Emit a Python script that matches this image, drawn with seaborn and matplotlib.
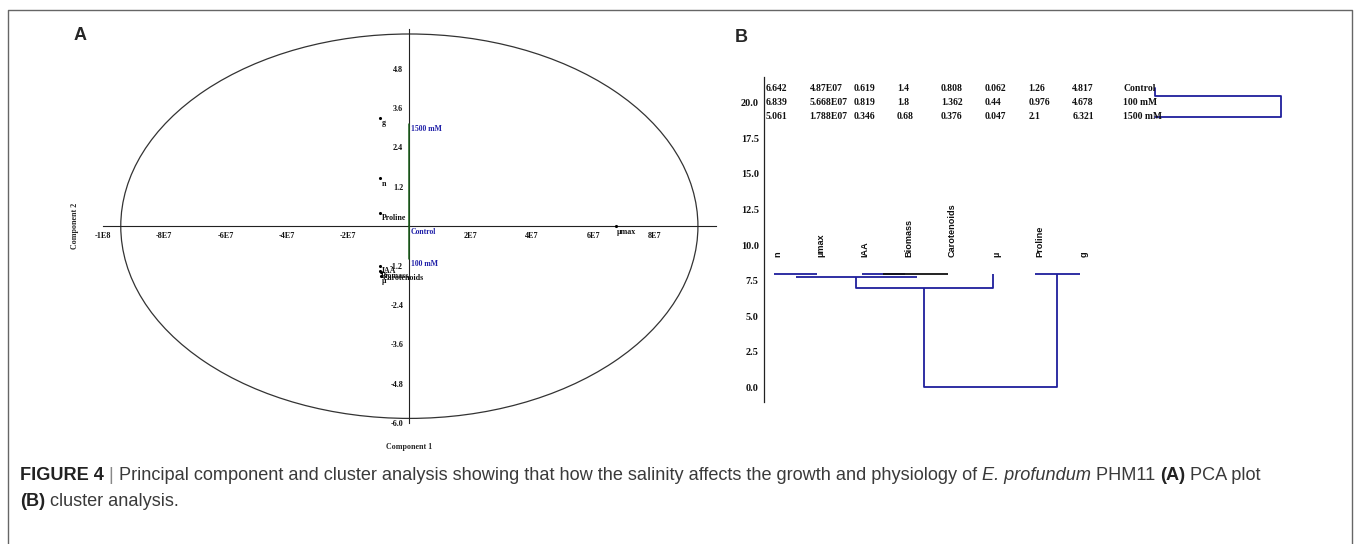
import matplotlib
matplotlib.use("Agg")
import matplotlib.pyplot as plt
from matplotlib import font_manager
from matplotlib.patches import Ellipse
import pandas as pd
import seaborn as sns

# PCA (panel A)
variables = ['g', 'n', 'Proline', 'µmax', 'IAA', 'Biomass', 'Carotenoids', 'µ']
comp1 = [-9.5e6, -9.5e6, -9.5e6, 6.74e7, -9.6e6, -9.6e6, -9.3e6, -9.3e6]
comp2 = [3.31, 1.46, 0.41, 0.0, -1.20, -1.36, -1.40, -1.52]
treatments = ['1500 mM', 'Control', '100 mM']
treat_c1 = [0.0, 0.0, 0.0]
treat_c2 = [3.12, 0.0, -0.99]
ellipse_c1 = 9.42e7
ellipse_c2 = 5.86
xticks_a = [-1e8, -8e7, -6e7, -4e7, -2e7, 2e7, 4e7, 6e7, 8e7]
xtick_labels_a = ['-1E8', '-8E7', '-6E7', '-4E7', '-2E7', '2E7', '4E7', '6E7', '8E7']
yticks_a = [-6.0, -4.8, -3.6, -2.4, -1.2, 1.2, 2.4, 3.6, 4.8]

# cluster analysis (panel B)
leaves = ['n', 'µmax', 'IAA', 'Biomass', 'Carotenoids', 'µ', 'Proline', 'g']
table_rows = ['Control', '100 mM', '1500 mM']
table_vals = [
    ['6.642', '4.87E07', '0.619', '1.4', '0.808', '0.062', '1.26', '4.817'],
    ['6.839', '5.668E07', '0.819', '1.8', '1.362', '0.44', '0.976', '4.678'],
    ['5.061', '1.788E07', '0.346', '0.68', '0.376', '0.047', '2.1', '6.321'],
]
table_y = [21, 20, 19]
# links: left x, right x, left child height, right child height, link height
link_xl = [-0.07, 1.93, 2.42, 0.43, 1.79, 5.88, 3.35]
link_xr = [0.90, 2.92, 3.90, 3.18, 4.92, 6.90, 6.39]
link_hl = [7.96, 7.96, 7.96, 7.77, 7.77, 7.96, 7.00]
link_hr = [7.96, 7.96, 7.96, 7.77, 7.96, 7.96, 7.96]
link_h = [7.96, 7.96, 7.96, 7.77, 7.00, 7.96, 0.00]
link_col = ['#1f1f9c', '#1f1f9c', '#111111', '#1f1f9c', '#1f1f9c', '#1f1f9c', '#1f1f9c']
# row clustering (horizontal): Control/100 mM join, then 1500 mM
row_link_x = [8.62, 11.5]
row_link_y = [21, 20.5, 19]

sns.set_style("white")
serif = 'Liberation Serif'
sans = 'Liberation Sans'
names = {f.name for f in font_manager.fontManager.ttflist}
cap_font = 'Liberation Sans Narrow' if 'Liberation Sans Narrow' in names else sans

W, H = 1357, 544
fig = plt.figure(figsize=(W / 100, H / 100), dpi=100)
navy = '#1f1f9c'


def fx(px):
    return px / W


def fy(py):
    return 1 - py / H


# ---------- panel A ----------
ax = fig.add_axes([fx(103), fy(423), fx(715.7) - fx(103), fy(29.4) - fy(423)])
ax.set_xlim(-1e8, 1e8)
ax.set_ylim(-6, 6)
for s in ['top', 'right']:
    ax.spines[s].set_visible(False)
ax.spines['left'].set_position('zero')
ax.spines['bottom'].set_position('zero')
for s in ['left', 'bottom']:
    ax.spines[s].set_color('#222222')
    ax.spines[s].set_linewidth(0.8)
ax.set_xticks(xticks_a)
ax.set_xticklabels(xtick_labels_a)
ax.set_yticks(yticks_a)
ax.set_yticklabels([f'{v:.1f}' for v in yticks_a])
ax.tick_params(direction='out', length=2.5, width=0.7, labelsize=5.9, pad=2,
               colors='#111111')
for lab in ax.get_xticklabels() + ax.get_yticklabels():
    lab.set_fontfamily(serif)
    lab.set_fontweight('bold')

ax.add_patch(Ellipse((0, 0), 2 * ellipse_c1, 2 * ellipse_c2, fill=False,
                     ec='#333333', lw=0.9))
for c1, c2 in zip(treat_c1, treat_c2):
    ax.plot([0, c1], [0, c2], color='#1a5e1a', lw=1.1, zorder=3)

df_a = pd.DataFrame({'c1': comp1, 'c2': comp2, 'var': variables})
sns.scatterplot(data=df_a, x='c1', y='c2', ax=ax, color='black', s=5,
                linewidth=0, zorder=4, legend=False)
for name, c1, c2 in zip(variables, comp1, comp2):
    ax.annotate(name, (c1, c2), xytext=(1, -1), textcoords='offset points',
                ha='left', va='top', fontsize=5.7, fontfamily=serif,
                fontweight='bold', color='#111111')
for name, c1, c2 in zip(treatments, treat_c1, treat_c2):
    ax.annotate(name, (c1, c2), xytext=(1, -1), textcoords='offset points',
                ha='left', va='top', fontsize=5.6, fontfamily=serif,
                fontweight='bold', color='#2020a8')
ax.set_xlabel('')
ax.set_ylabel('')
fig.text(fx(75), fy(226), 'Component 2', rotation=90, ha='center', va='center',
         fontsize=5.8, fontfamily=serif, fontweight='bold')
fig.text(fx(409), fy(447), 'Component 1', ha='center', va='center',
         fontsize=5.8, fontfamily=serif, fontweight='bold')

# ---------- panel B ----------
bx = fig.add_axes([fx(764.3), fy(401.7), fx(1289.8) - fx(764.3), fy(77) - fy(401.7)])
bx.set_xlim(-0.3, 11.7)
bx.set_ylim(-1.0, 21.8)
for s in ['top', 'right', 'bottom']:
    bx.spines[s].set_visible(False)
bx.spines['left'].set_color('#222222')
bx.spines['left'].set_linewidth(0.9)
bx.set_xticks([])
yt = [0, 2.5, 5, 7.5, 10, 12.5, 15, 17.5, 20]
bx.set_yticks(yt)
bx.set_yticklabels([f'{v:.1f}' for v in yt])
bx.tick_params(axis='y', direction='out', length=2.5, width=0.7, labelsize=7.4,
               pad=1.5, colors='#111111')
for lab in bx.get_yticklabels():
    lab.set_fontfamily(serif)
    lab.set_fontweight('bold')

for xl, xr, hl, hr, h, c in zip(link_xl, link_xr, link_hl, link_hr, link_h, link_col):
    bx.plot([xl, xl, xr, xr], [hl, h, h, hr], color=c, lw=1.3,
            solid_capstyle='butt')
bx.plot([row_link_x[0], row_link_x[0], row_link_x[1], row_link_x[1], row_link_x[0]],
        [row_link_y[0], row_link_y[1], row_link_y[1], row_link_y[2], row_link_y[2]],
        color=navy, lw=1.3)

for i, name in enumerate(leaves):
    bx.text(i, 9.14, name, rotation=90, ha='center', va='bottom', fontsize=6.6,
            fontfamily=sans, fontweight='bold', color='#111111')
for r, (row, yv) in enumerate(zip(table_vals, table_y)):
    for i, v in enumerate(row):
        bx.text(i - 0.27, yv, v, ha='left', va='center', fontsize=6.9,
                fontfamily=serif, fontweight='bold', color='#111111')
    bx.text(7.9, yv, table_rows[r], ha='left', va='center', fontsize=6.9,
            fontfamily=serif, fontweight='bold', color='#111111')

# panel letters
fig.text(fx(74), fy(36), 'A', ha='left', va='center', fontsize=13,
         fontfamily=sans, fontweight='bold')
fig.text(fx(735), fy(37), 'B', ha='left', va='center', fontsize=13,
         fontfamily=sans, fontweight='bold')

# frame
fig.add_artist(plt.Line2D([fx(8), fx(8), fx(1351.5), fx(1351.5)],
                          [fy(544), fy(10), fy(10), fy(544)],
                          color='#666666', lw=1.0))

# caption
renderer = fig.canvas.get_renderer()
cap_size = 13.1
lines = [
    [('FIGURE 4 ', 'bold', 'normal', '#222222'),
     ('| ', 'normal', 'normal', '#888888'),
     ('Principal component and cluster analysis showing that how the salinity '
      'affects the growth and physiology of ', 'normal', 'normal', '#3a3a3a'),
     ('E. profundum', 'normal', 'italic', '#3a3a3a'),
     (' PHM11 ', 'normal', 'normal', '#3a3a3a'),
     ('(A)', 'bold', 'normal', '#222222'),
     (' PCA plot', 'normal', 'normal', '#3a3a3a')],
    [('(B)', 'bold', 'normal', '#222222'),
     (' cluster analysis.', 'normal', 'normal', '#3a3a3a')],
]
for line, ypx in zip(lines, [475, 501]):
    x = fx(20)
    for txt, wt, st, col in line:
        t = fig.text(x, fy(ypx), txt, ha='left', va='center', fontsize=cap_size,
                     fontfamily=cap_font, fontweight=wt, fontstyle=st, color=col)
        x += t.get_window_extent(renderer).width / W

fig.savefig('out.png', dpi=100)
